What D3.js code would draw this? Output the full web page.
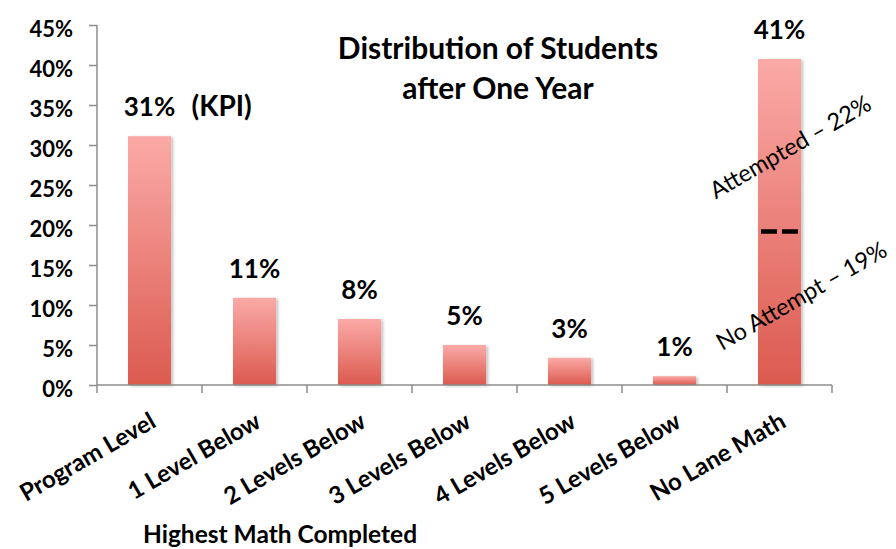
<!DOCTYPE html>
<html>
<head>
<meta charset="utf-8">
<script src="https://cdn.jsdelivr.net/npm/d3@7"></script>
<style>
  body { margin: 0; background: #fff; }
  svg { display: block; font-family: Lato, "Open Sans", sans-serif; }
</style>
</head>
<body>
<svg width="896" height="549"></svg>
<script>
var categories = ["Program Level", "1 Level Below", "2 Levels Below", "3 Levels Below", "4 Levels Below", "5 Levels Below", "No Lane Math"];
var values     = [31.1, 10.9, 8.25, 5.0, 3.4, 1.1, 40.75];
var valueLabels = ["31%", "11%", "8%", "5%", "3%", "1%", "41%"];
var yTicks     = [0, 5, 10, 15, 20, 25, 30, 35, 40, 45];
var attempted  = 22,
    noAttempt  = 19;

var svg = d3.select("svg"),
    margin = {top: 25, left: 97},
    width  = 735,
    height = 360;

var x = d3.scaleBand().domain(categories).range([0, width]).paddingInner(0.59).paddingOuter(0.295),
    y = d3.scaleLinear().domain([0, 45]).range([height, 0]);

var defs = svg.append("defs");
var grad = defs.append("linearGradient")
    .attr("id", "barGrad")
    .attr("x1", 0).attr("y1", 0).attr("x2", 0).attr("y2", 1);
grad.append("stop").attr("offset", "0%").attr("stop-color", "#fbaaa7");
grad.append("stop").attr("offset", "100%").attr("stop-color", "#db5a4f");

defs.append("filter").attr("id", "shadow")
    .attr("x", "-20%").attr("y", "-5%").attr("width", "150%").attr("height", "115%")
  .append("feDropShadow")
    .attr("dx", 2).attr("dy", 1).attr("stdDeviation", 1.5)
    .attr("flood-color", "#000").attr("flood-opacity", 0.25);

var g = svg.append("g")
    .attr("transform", "translate(" + margin.left + "," + margin.top + ")");

// bars
g.selectAll(".bar")
  .data(values)
  .enter().append("rect")
    .attr("class", "bar")
    .attr("x", function(d, i) { return x(categories[i]); })
    .attr("y", function(d) { return y(d); })
    .attr("width", x.bandwidth())
    .attr("height", function(d) { return height - y(d); })
    .attr("fill", "url(#barGrad)")
    .attr("filter", "url(#shadow)");

// y axis
var yAxis = d3.axisLeft(y)
    .tickValues(yTicks)
    .tickSize(8)
    .tickFormat(function(d) { return d + "%"; });

var ya = g.append("g").call(yAxis);
ya.select(".domain").attr("stroke", "#8c8c8c").attr("stroke-width", 1.5).attr("d", "M0,0V" + height);
ya.selectAll(".tick line").attr("stroke", "#8c8c8c").attr("stroke-width", 1.5);
ya.selectAll(".tick text")
    .attr("x", -24)
    .attr("dy", "0.5em")
    .style("font-family", "Lato, sans-serif")
    .style("font-size", "22px")
    .style("font-weight", "bold")
    .attr("fill", "#000");

// x axis with ticks at band edges
var xa = g.append("g").attr("transform", "translate(0," + height + ")");
xa.append("line")
    .attr("x1", 0).attr("x2", width)
    .attr("stroke", "#8c8c8c").attr("stroke-width", 1.5);
var step = x.step();
xa.selectAll(".xtick")
  .data(d3.range(categories.length + 1))
  .enter().append("line")
    .attr("x1", function(i) { return i * step; })
    .attr("x2", function(i) { return i * step; })
    .attr("y1", 0).attr("y2", 8)
    .attr("stroke", "#8c8c8c").attr("stroke-width", 1.5);

xa.selectAll(".xlbl")
  .data(categories)
  .enter().append("text")
    .attr("transform", function(d) {
      return "translate(" + (x(d) + x.bandwidth() / 2 + 8) + ",41) rotate(-30)";
    })
    .attr("text-anchor", "end")
    .style("font-size", "24px")
    .style("font-weight", "bold")
    .text(function(d) { return d; });

// value labels
g.selectAll(".vlbl")
  .data(values)
  .enter().append("text")
    .attr("x", function(d, i) { return x(categories[i]) + x.bandwidth() / 2; })
    .attr("y", function(d) { return y(d) - 20; })
    .attr("text-anchor", "middle")
    .style("font-size", "26px")
    .style("font-weight", "bold")
    .text(function(d, i) { return valueLabels[i]; });

g.append("text")
    .attr("x", x(categories[0]) + x.bandwidth() / 2 + 42)
    .attr("y", y(values[0]) - 20)
    .style("font-size", "28px")
    .style("font-weight", "bold")
    .text("(KPI)");

// split marker on last bar
var last = categories[categories.length - 1];
g.append("line")
    .attr("x1", x(last) + 3)
    .attr("x2", x(last) + x.bandwidth() - 3)
    .attr("y1", y(noAttempt) - 1.5).attr("y2", y(noAttempt) - 1.5)
    .attr("stroke", "#000").attr("stroke-width", 4.5)
    .attr("stroke-dasharray", "16,5");

var lc = x(last) + x.bandwidth() / 2;
g.append("text")
    .attr("transform", "translate(" + (lc + 15) + "," + (y(attempted) - 55) + ") rotate(-30)")
    .attr("text-anchor", "middle")
    .style("font-size", "23.5px")
    .text("Attempted \u2013 " + attempted + "%");

g.append("text")
    .attr("transform", "translate(" + (lc + 26) + "," + (y(noAttempt) + 70) + ") rotate(-30)")
    .attr("text-anchor", "middle")
    .style("font-size", "23.5px")
    .text("No Attempt \u2013 " + noAttempt + "%");

// title
var title = svg.append("text")
    .attr("x", 498)
    .attr("text-anchor", "middle")
    .style("font-size", "30px")
    .style("font-weight", "bold");
title.append("tspan").attr("x", 498).attr("y", 59).text("Distribution of Students");
title.append("tspan").attr("x", 498).attr("y", 99).text("after One Year");

// x axis title
svg.append("text")
    .attr("x", 280)
    .attr("y", 543)
    .attr("text-anchor", "middle")
    .style("font-size", "24.5px")
    .style("font-weight", "bold")
    .text("Highest Math Completed");
</script>
</body>
</html>
